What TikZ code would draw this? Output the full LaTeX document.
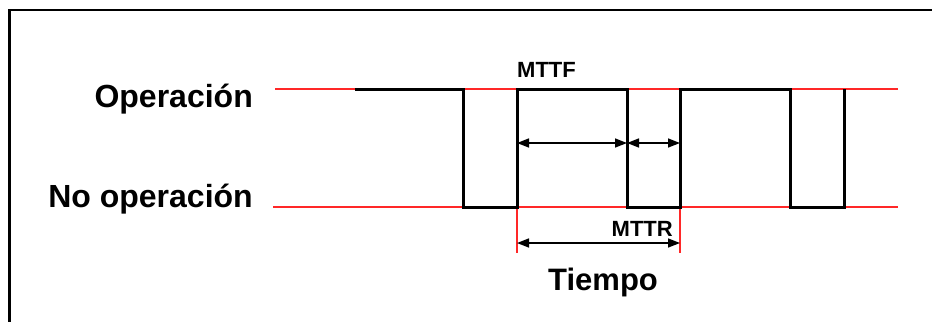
\documentclass[tikz,border=0pt]{standalone}
\usepackage{fontspec}
\setmainfont{Liberation Sans}
\usetikzlibrary{arrows.meta}
\definecolor{lvlred}{RGB}{255,40,40}
\begin{document}
\begin{tikzpicture}[x=1pt,y=-1pt,
  frame/.style={draw=black,line width=2.2pt},
  level/.style={draw=lvlred,line width=2.4pt},
  wave/.style={draw=black,line width=3pt,line join=miter},
  span/.style={draw=black,line width=1.5pt,{Triangle[length=12pt,width=9pt]}-{Triangle[length=12pt,width=9pt]}},
  biglabel/.style={inner sep=0pt,font=\bfseries\fontsize{32}{38}\selectfont},
  smalllabel/.style={inner sep=0pt,font=\bfseries\fontsize{22}{26}\selectfont}]
\useasboundingbox (0,0) rectangle (932,322);
% frame (top and left edges visible)
\draw[frame] (932,10) -- (9.5,10) -- (9.5,322);
% level lines
\coordinate (opL) at (275,89);
\coordinate (opR) at (898,89);
\coordinate (noL) at (273,207);
\coordinate (noR) at (898,207);
\draw[level] (opL) -- (opR);
\draw[level] (noL) -- (noR);
% red verticals for MTTR span
\coordinate (ra) at (517,207);
\coordinate (rb) at (680,207);
\coordinate (ra2) at (517,253);
\coordinate (rb2) at (680,253);
\draw[level,line width=1.8pt] (ra) -- (ra2);
\draw[level,line width=1.8pt] (rb) -- (rb2);
% waveform
\draw[wave] (355,89) -- (463,89) -- (463,207) -- (517,207) -- (517,89)
  -- (627,89) -- (627,207) -- (680,207) -- (680,89) -- (790,89)
  -- (790,207) -- (844,207) -- (844,89);
% spans
\coordinate (fa) at (517,143);
\coordinate (fb) at (627,143);
\coordinate (fc) at (680,143);
\draw[span] (fa) -- (fb);
\draw[span] (fb) -- (fc);
\coordinate (ta) at (517,243);
\coordinate (tb) at (680,243);
\draw[span] (ta) -- (tb);
% labels
\node[biglabel,anchor=base east] (lop) at (253,107) {Operación};
\node[biglabel,anchor=base east] (lno) at (253,207.5) {No operación};
\node[smalllabel,anchor=base west] (lmttf) at (517,77) {MTTF};
\node[smalllabel,anchor=base east] (lmttr) at (673,236) {MTTR};
\node[biglabel,anchor=base west,font=\bfseries\fontsize{31}{36}\selectfont] (ltiempo) at (548,290) {Tiempo};
\end{tikzpicture}
\end{document}
